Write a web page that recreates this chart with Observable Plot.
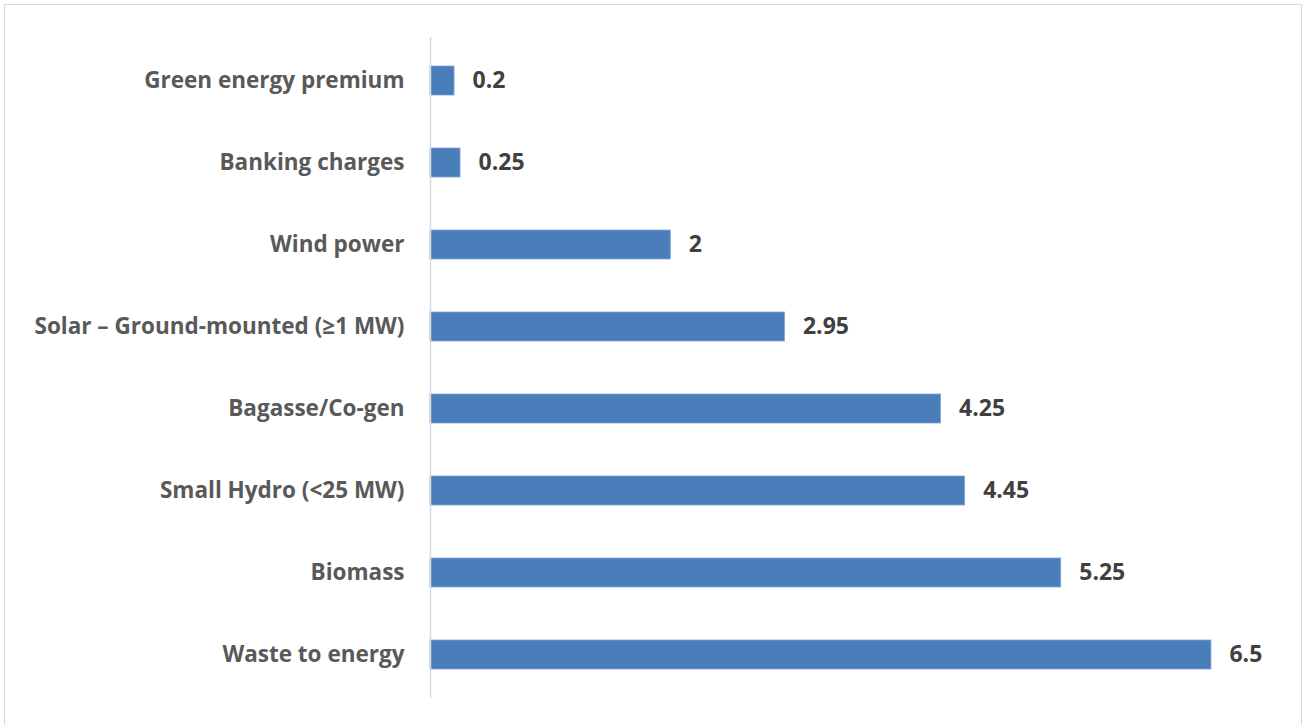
<!DOCTYPE html>
<html>
<head>
<meta charset="utf-8">
<script src="https://cdn.jsdelivr.net/npm/d3@7"></script>
<script src="https://cdn.jsdelivr.net/npm/@observablehq/plot@0.6"></script>
<style>
  html, body { margin: 0; padding: 0; background: #fff; }
  #wrap { position: relative; width: 1305px; height: 725px; overflow: hidden; }
  #frame { position: absolute; left: 4px; top: 4px; width: 1298px; height: 740px; border: 1.5px solid #d9d9d9; box-sizing: border-box; pointer-events: none; }
  #chart { position: absolute; left: 0; top: 0; }
</style>
</head>
<body>
<div id="wrap"><div id="chart"></div><div id="frame"></div></div>
<script>
const categories = [
  "Green energy premium",
  "Banking charges",
  "Wind power",
  "Solar – Ground-mounted (≥1 MW)",
  "Bagasse/Co-gen",
  "Small Hydro (<25 MW)",
  "Biomass",
  "Waste to energy"
];
const values = [0.2, 0.25, 2, 2.95, 4.25, 4.45, 5.25, 6.5];
const labels = ["0.2", "0.25", "2", "2.95", "4.25", "4.45", "5.25", "6.5"];

const data = categories.map((c, i) => ({category: c, value: values[i], label: labels[i]}));

const chart = Plot.plot({
  width: 1305,
  height: 725,
  marginLeft: 430,
  marginRight: 34,
  marginTop: 37,
  marginBottom: 27,
  style: {fontFamily: "'Open Sans', sans-serif", background: "transparent"},
  x: {domain: [0, 7], axis: null},
  y: {domain: categories, paddingInner: 0.65, paddingOuter: 0.325, label: null},
  marks: [
    Plot.barX(data, {x: "value", y: "category", fill: "#4a7ebb", stroke: "#7ea6d8", strokeWidth: 0.8}),
    Plot.ruleX([0], {stroke: "#d9d9d9", strokeWidth: 1.5}),
    Plot.text(data, {x: "value", y: "category", text: "label", textAnchor: "start", dx: 18,
      fontSize: 23, fontWeight: "bold", fill: "#404040"}),
    Plot.axisY({tickSize: 0, tickPadding: 26, fontSize: 22.5, fontWeight: "bold", color: "#595959", label: null})
  ]
});
document.getElementById("chart").appendChild(chart);
</script>
</body>
</html>
